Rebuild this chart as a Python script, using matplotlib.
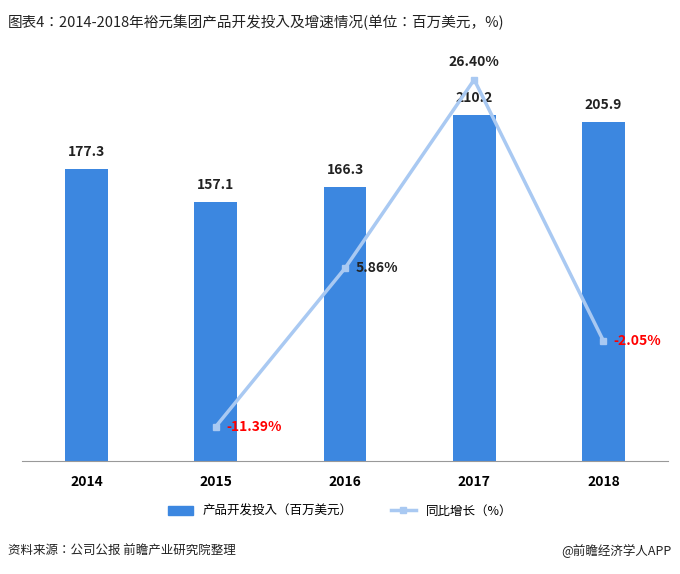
import matplotlib
matplotlib.use("Agg")
import matplotlib.pyplot as plt
from matplotlib import font_manager as fm
from matplotlib.lines import Line2D
from matplotlib.patches import Patch

cjk = [f.name for f in fm.fontManager.ttflist if "CJK" in f.name]
pref = [n for n in ["Noto Sans CJK SC", "Noto Sans CJK JP", "Noto Sans CJK TC", "Noto Sans CJK KR"] if n in cjk] or cjk[:1]
plt.rcParams['font.family'] = "sans-serif"
plt.rcParams['font.sans-serif'] = pref + ['DejaVu Sans']

years = ["2014", "2015", "2016", "2017", "2018"]
invest = [177.3, 157.1, 166.3, 210.2, 205.9]
growth_years = ["2015", "2016", "2017", "2018"]
growth = [-11.39, 5.86, 26.40, -2.05]

W, H = 680, 574
fig = plt.figure(figsize=(W/100, H/100), dpi=100)
ax = fig.add_axes([22/W, 1-461/H, 646/W, 401/H])
x = list(range(len(years)))
bar_color = "#3C87E0"
ax.bar(x, invest, width=0.33, color=bar_color, zorder=2)
ax.set_xlim(-0.5, 4.5)
ax.set_ylim(0, 243.5)
for xi, v in zip(x, invest):
    ax.text(xi, v + 6, f"{v:.1f}", ha="center", va="bottom", fontsize=10, fontweight="bold", color="#222222")
ax.set_xticks(x)
ax.set_xticklabels(years, fontsize=10, fontweight="bold")
ax.tick_params(axis="x", length=0, pad=10)
ax.set_yticks([])
for s in ["top", "left", "right"]:
    ax.spines[s].set_visible(False)
ax.spines["bottom"].set_color("#999999")

ax2 = ax.twinx()
gx = [years.index(y) for y in growth_years]
ax2.plot(gx, growth, color="#A9C9F2", lw=2.5, marker="s", ms=5, zorder=3)
ax2.set_ylim(-15.14, 28.54)
ax2.set_yticks([])
for s in ["top", "left", "right", "bottom"]:
    ax2.spines[s].set_visible(False)
for xi, v in zip(gx, growth):
    col = "red" if v < 0 else "#222222"
    if v == max(growth):
        ax2.text(xi, v + 1.2, f"{v:.2f}%", ha="center", va="bottom", fontsize=10, fontweight="bold", color=col)
    else:
        ax2.text(xi + 0.08, v, f"{v:.2f}%", ha="left", va="center", fontsize=10, fontweight="bold", color=col)

fig.text(8/W, 1-22/H, "图表4：2014-2018年裕元集团产品开发投入及增速情况(单位：百万美元，%)", fontsize=10.5, va="center", ha="left", color="#222222")
handles = [Patch(color=bar_color), Line2D([0], [0], color="#A9C9F2", lw=2.5, marker="s", ms=5)]
fig.legend(handles, ["产品开发投入（百万美元）", "同比增长（%）"], loc="center", bbox_to_anchor=(340/W, 1-511/H), ncol=2, frameon=False, fontsize=9, columnspacing=3)
fig.text(8/W, 1-551/H, "资料来源：公司公报 前瞻产业研究院整理", fontsize=9, style="italic", va="center", color="#222222")
fig.text(672/W, 1-551/H, "@前瞻经济学人APP", fontsize=9, va="center", ha="right", color="#222222")
fig.savefig("out.png", dpi=100)
